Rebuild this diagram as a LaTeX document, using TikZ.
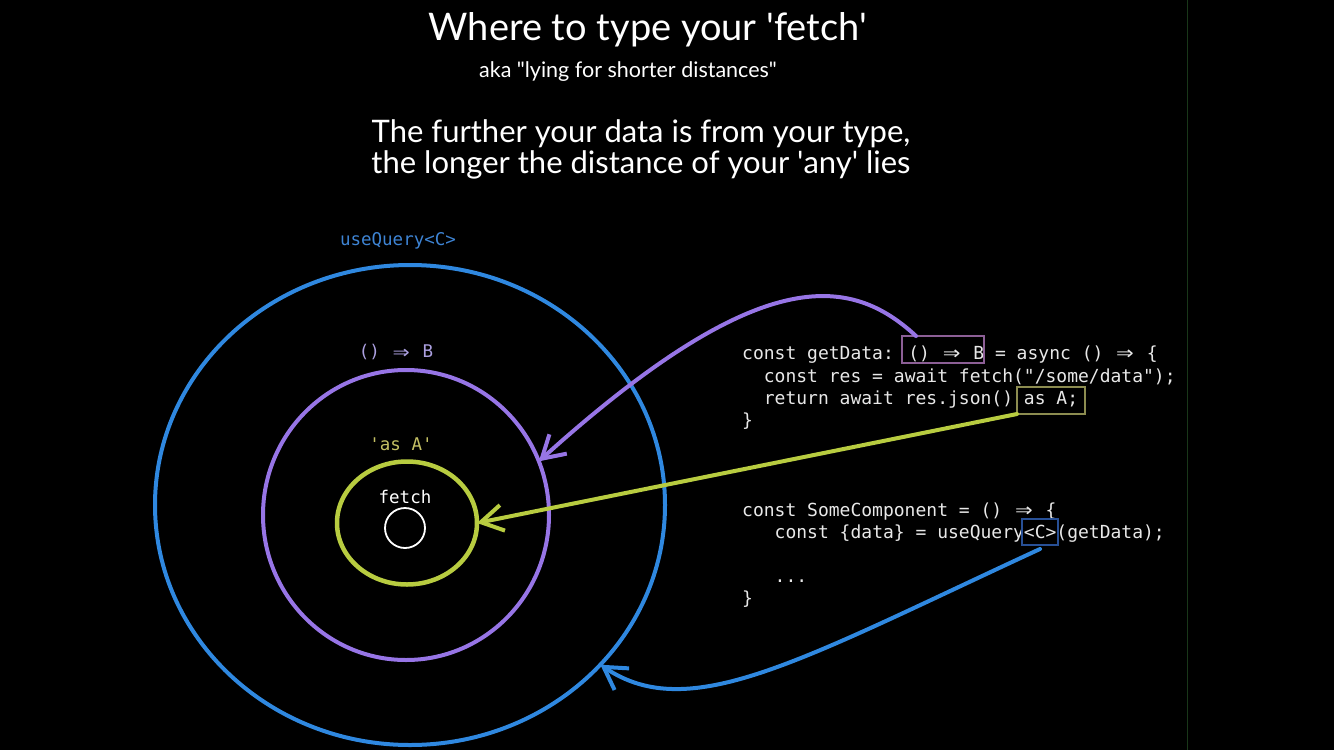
\documentclass[tikz,border=0pt]{standalone}
\usepackage{fontspec}
\usetikzlibrary{arrows.meta,positioning,calc,shapes.geometric}
\newfontfamily\hand{Lato}
\newfontfamily\code{DejaVu Sans Mono}
\definecolor{lineblue}{RGB}{47,136,224}
\definecolor{linepurple}{RGB}{151,117,230}
\definecolor{linegreen}{RGB}{184,204,64}
\definecolor{boxpurple}{RGB}{140,95,150}
\definecolor{boxgreen}{RGB}{140,140,80}
\definecolor{boxblue}{RGB}{40,80,150}
\definecolor{codegrey}{RGB}{232,232,232}
\definecolor{lblblue}{RGB}{62,132,212}
\definecolor{lblpurple}{RGB}{172,160,224}
\definecolor{lblgreen}{RGB}{196,192,100}
\definecolor{edgegreen}{RGB}{25,55,25}
\newlength\cw
\setlength\cw{10.84pt}
\newcommand{\arr}{\makebox[2\cw]{\raisebox{-1.8pt}{\scalebox{1.6}[1.35]{⇒}}}}
\tikzset{
  ring/.style={ellipse, draw=#1, line width=4pt, inner sep=0pt, outer sep=0pt},
  ringlabel/.style={text=#1, inner sep=0pt, font=\code\fontsize{17.5}{20}\selectfont},
  codeline/.style={anchor=base west, inner sep=0pt, text=codegrey, font=\code\fontsize{18}{22}\selectfont},
  codebox/.style={draw=#1, line width=1.2pt, inner sep=0pt, outer sep=0pt, minimum height=27pt},
  link/.style={draw=#1, line width=4pt, line cap=round, line join=round, -{Straight Barb[length=22pt,width=26pt]}},
  heading/.style={text=white, inner sep=0pt, font=\hand\fontsize{#1}{31}\selectfont}
}
\begin{document}
\begin{tikzpicture}[x=1pt, y=-1pt]
\fill[black] (0,0) rectangle (1334,750);
\useasboundingbox (0,0) rectangle (1334,750);
\draw[edgegreen, line width=1pt] (1187,0) -- (1187,750);

% headings
\node[heading=38] (title) at (648,30) {Where to type your \textquotesingle fetch\textquotesingle};
\node[heading=21.5] (aka) at (628,72) {aka "lying for shorter distances"};
\node[heading=31, align=center] (lies) at (641,149) {The further your data is from your type,\\the longer the distance of your \textquotesingle any\textquotesingle{} lies};

% rings
\node[ring=lineblue, minimum width=510pt, minimum height=480pt] (outer) at (410,505) {};
\node[ring=linepurple, minimum width=286pt, minimum height=290pt] (middle) at (406,515) {};
\node[ring=linegreen, line width=4.5pt, minimum width=140pt, minimum height=123pt] (inner) at (407,523) {};
\node[circle, draw=white, line width=1.8pt, minimum size=40pt, inner sep=0pt] (core) at (405,528) {};

\node[ringlabel=lblblue] (lblC) at (398,241) {useQuery<C>};
\node[ringlabel=lblpurple] (lblB) at (396,352) {() \arr{} B};
\node[ringlabel=lblgreen] (lblA) at (401,444) {\textquotesingle as A\textquotesingle};
\node[ringlabel=white] (lblfetch) at (405,497) {fetch};

% code
\node[codeline] (c1) at (742,359) {const getData: () \arr{} B = async () \arr{} \{};
\node[codeline] (c2) at (742,382) {\hspace*{2\cw}const res = await fetch("/some/data");};
\node[codeline] (c3) at (742,404) {\hspace*{2\cw}return await res.json() as A;};
\node[codeline] (c4) at (742,426) {\}};
\node[codeline] (c5) at (742,516) {const SomeComponent = () \arr{} \{};
\node[codeline] (c6) at (742,538) {\hspace*{3\cw}const \{data\} = useQuery<C>(getData);};
\node[codeline] (c7) at (742,582) {\hspace*{3\cw}...};
\node[codeline] (c8) at (742,604) {\}};

\node[codebox=boxpurple, minimum width=82pt] (boxB) at (943,349.5) {};
\node[codebox=boxgreen, minimum width=68pt] (boxA) at (1051,400.5) {};
\node[codebox=boxblue, minimum width=36pt, minimum height=26pt] (boxC) at (1040,532) {};

% arrows
\draw[link=linepurple] ([xshift=14pt]boxB.north west) .. controls (850,275) and (760,262) .. (middle.22);
\draw[link=linegreen] (boxA.south west) -- (inner.east);
\draw[link=lineblue] ([yshift=-4pt]boxC.south) .. controls (800,660) and (690,725) .. (outer.-40);
\end{tikzpicture}
\end{document}
